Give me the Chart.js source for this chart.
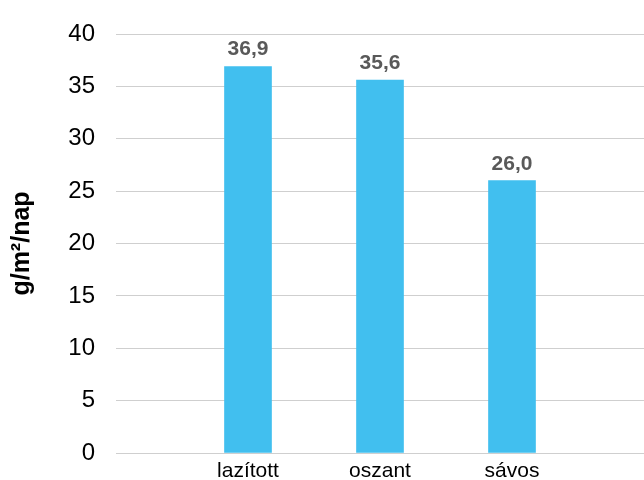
<!DOCTYPE html>
<html>
<head>
<meta charset="utf-8">
<script src="https://cdn.jsdelivr.net/npm/chart.js@4"></script>
<style>
  html, body { margin: 0; padding: 0; background: #fff; overflow: hidden; }
  canvas { display: block; }
</style>
</head>
<body>
<canvas id="myChart" width="644" height="480"></canvas>
<script>
(() => {
    'use strict'

    // empty slots at both ends give the wide side gaps of the original
    const categories = ['', 'lazított', 'oszant', 'sávos', '']
    const values = [null, 36.9, 35.6, 26.0, null]
    const yTicks = [0, 5, 10, 15, 20, 25, 30, 35, 40]

    const fontFamily = '"Liberation Sans", Arial, Helvetica, sans-serif'

    // value labels above the bars, with decimal comma
    const valueLabels = {
        id: 'valueLabels',
        afterDatasetsDraw(chart) {
            const ctx = chart.ctx
            const meta = chart.getDatasetMeta(0)
            ctx.save()
            ctx.font = 'bold 21px ' + fontFamily
            ctx.fillStyle = '#595959'
            ctx.textAlign = 'center'
            ctx.textBaseline = 'alphabetic'
            meta.data.forEach((bar, i) => {
                const v = values[i]
                if (v === null) return
                ctx.fillText(v.toFixed(1).replace('.', ','), bar.x, bar.y - 11)
            })
            ctx.restore()
        }
    }

    const ctx = document.getElementById('myChart')
    // eslint-disable-next-line no-unused-vars
    const myChart = new Chart(ctx, {
        type: 'bar',
        data: {
            labels: categories,
            datasets: [{
                data: values,
                backgroundColor: '#41BFEF',
                borderWidth: 0,
                barThickness: 47
            }]
        },
        options: {
            responsive: false,
            animation: false,
            layout: {
                padding: { top: 34, right: 0, bottom: 0, left: 0 }
            },
            plugins: {
                legend: { display: false },
                tooltip: { enabled: false }
            },
            scales: {
                x: {
                    offset: false,
                    afterFit(scale) {
                        scale.height = 27
                        // tick padding would otherwise pull the right edge in
                        scale.paddingLeft = 0
                        scale.paddingRight = 0
                    },
                    grid: { display: false, drawTicks: false },
                    border: { display: false },
                    ticks: {
                        color: '#000',
                        padding: 6,
                        maxRotation: 0,
                        autoSkip: false,
                        font: { family: fontFamily, size: 21 }
                    }
                },
                y: {
                    min: 0,
                    max: 40,
                    afterBuildTicks(scale) {
                        scale.ticks = yTicks.map(v => ({ value: v }))
                    },
                    afterFit(scale) {
                        scale.width = 116
                    },
                    grid: {
                        color: '#cfcfcf',
                        lineWidth: 1,
                        // invisible tick marks push the labels left without
                        // adding vertical padding to the scale
                        drawTicks: true,
                        tickLength: 21,
                        tickColor: 'rgba(0,0,0,0)'
                    },
                    border: { display: false },
                    ticks: {
                        color: '#000',
                        padding: 0,
                        font: { family: fontFamily, size: 24 }
                    },
                    title: {
                        display: true,
                        text: 'g/m²/nap',
                        color: '#000',
                        padding: { top: 7, bottom: 0 },
                        font: { family: fontFamily, size: 25, weight: 'bold' }
                    }
                }
            }
        },
        plugins: [valueLabels]
    })
})()
</script>
</body>
</html>
